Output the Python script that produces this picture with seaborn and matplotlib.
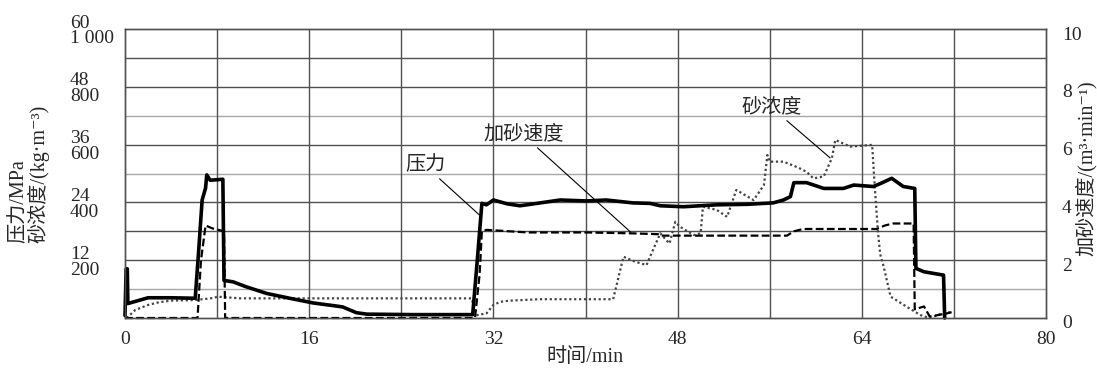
import numpy as np
import pandas as pd
import seaborn as sns
import matplotlib.pyplot as plt
from matplotlib.transforms import ScaledTranslation

# pressure (MPa)
t_press = [0.0, 0.1, 0.2, 0.25, 2.0, 4.0, 6.1, 6.4, 6.7, 7.0, 7.1, 7.4, 8.5, 8.6,
           9.4, 10.5, 12.3, 14.5, 16.4, 18.0, 18.9, 20.1, 21.0, 25.0, 30.2, 30.6,
           31.0, 31.4, 32.0, 33.2, 34.3, 35.5, 37.8, 40.1, 41.8, 44.1, 45.6, 46.5,
           48.5, 51.4, 54.0, 56.3, 57.2, 57.8, 58.1, 59.2, 60.7, 62.4, 63.3, 65.0,
           65.6, 66.6, 67.6, 68.6, 68.7, 69.4, 71.1, 71.2]
pressure = [0.5, 10.2, 10.2, 3.0, 4.2, 4.2, 4.1, 14.0, 24.5, 27.0, 29.7, 28.6, 28.8, 7.8,
            7.5, 6.5, 5.1, 4.0, 3.1, 2.6, 2.3, 1.1, 0.8, 0.7, 0.7, 12.0,
            23.8, 23.5, 24.5, 23.7, 23.3, 23.7, 24.5, 24.3, 24.5, 23.9, 23.8, 23.3,
            23.1, 23.5, 23.6, 23.9, 24.5, 25.2, 28.1, 28.1, 26.9, 26.9, 27.6, 27.3,
            27.9, 29.0, 27.3, 26.9, 10.3, 9.6, 8.9, 0.0]

# sand rate (m3/min)
t_rate = [0.0, 6.3, 6.6, 7.0, 7.6, 8.6, 8.7, 30.4, 30.8, 31.0, 31.4, 35.0, 40.0, 44.0,
          46.3, 46.5, 50.0, 55.8, 57.5, 58.1, 58.9, 62.0, 65.3, 66.0, 66.7, 68.5,
          68.6, 69.4, 69.9, 71.4, 71.8]
sand_rate = [0.0, 0.0, 2.0, 3.2, 3.1, 3.0, 0.0, 0.0, 1.5, 3.0, 3.05, 2.96, 2.96, 2.93,
             2.9, 2.85, 2.85, 2.85, 2.85, 3.0, 3.08, 3.08, 3.08, 3.2, 3.27, 3.27,
             0.3, 0.4, 0.05, 0.16, 0.2]

# sand concentration (kg/m3)
t_conc = [0.15, 0.9, 2.0, 3.0, 4.0, 6.0, 7.0, 7.8, 8.0, 10.0, 15.0, 20.0, 25.0, 30.1,
          30.4, 30.6, 31.4, 32.0, 32.6, 33.4, 36.0, 40.0, 42.4, 43.3, 44.3, 45.3,
          45.8, 46.5, 47.0, 47.3, 47.8, 48.2, 49.4, 50.0, 50.2, 51.4, 52.3, 53.1,
          54.6, 55.5, 55.8, 56.0, 57.2, 58.5, 59.2, 59.8, 60.7, 61.4, 61.7, 63.0,
          64.9, 65.1, 65.4, 65.6, 65.9, 66.5, 67.9, 69.1, 69.9, 71.1, 71.7]
sand_conc = [0, 28, 45, 55, 60, 62, 66, 70, 74, 68, 68, 68, 68, 68,
             30, 10, 16, 45, 56, 60, 65, 65, 65, 212, 195, 183,
             230, 293, 270, 258, 333, 316, 287, 293, 385, 374, 350, 443,
             408, 460, 564, 541, 541, 520, 506, 483, 490, 553, 616, 593,
             599, 470, 300, 220, 178, 74, 39, 10, 0, 17, 20]

x_ticks = [0, 16, 32, 48, 64, 80]
press_labels = ["12", "24", "36", "48", "60"]
conc_ticks = [200, 400, 600, 800, 1000]
conc_labels = ["200", "400", "600", "800", "1 000"]
rate_ticks = [0, 2, 4, 6, 8, 10]

sns.set_style("white")
plt.rcParams['font.family'] = ['Liberation Serif', 'Noto Sans CJK SC', 'DejaVu Sans']
plt.rcParams['font.size'] = 14

fig = plt.figure(figsize=(10.97, 3.72), dpi=100)
ax = fig.add_axes([125 / 1097, 1 - 318 / 372, 921 / 1097, 289 / 372])
ax_p = ax.twinx()
ax_r = ax.twinx()

grid_dark = '#505050'
grid_light = '#a8a8a8'
for v in range(100, 1000, 100):
    ax.axhline(v, color=grid_light if v in (100, 500, 700) else grid_dark, lw=1, zorder=0)
for v in range(8, 80, 8):
    ax.axvline(v, color=grid_dark, lw=1, zorder=0)

df_c = pd.DataFrame({"t": t_conc, "v": sand_conc})
df_p = pd.DataFrame({"t": t_press, "v": pressure})
df_r = pd.DataFrame({"t": t_rate, "v": sand_rate})

sns.lineplot(data=df_c, x="t", y="v", ax=ax, sort=False, estimator=None,
             color='#444444', lw=1.6, linestyle=(0, (1, 1.2)), clip_on=False)
sns.lineplot(data=df_p, x="t", y="v", ax=ax_p, sort=False, estimator=None,
             color='black', lw=2.6, clip_on=False)
sns.lineplot(data=df_r, x="t", y="v", ax=ax_r, sort=False, estimator=None,
             color='black', lw=1.6, linestyle=(0, (3.5, 1.5)), clip_on=False)

ax.set_xlim(0, 80)
ax.set_ylim(0, 1000)
ax_p.set_ylim(0, 60)
ax_r.set_ylim(0, 10)
ax_p.set_axis_off()

ax.set_xticks(x_ticks)
ax.set_xticklabels([str(x) for x in x_ticks])
ax.set_yticks(conc_ticks)
ax.set_yticklabels([p + "\n" + c for p, c in zip(press_labels, conc_labels)])
ax.tick_params(axis='y', length=0, pad=39.6)
ax.tick_params(axis='x', length=0, pad=9)
for lab in ax.get_yticklabels():
    lab.set_horizontalalignment('left')
    lab.set_verticalalignment('center')
    lab.set_linespacing(0.9)
    lab.set_transform(lab.get_transform() + ScaledTranslation(0, -0.02, fig.dpi_scale_trans))

ax_r.set_yticks(rate_ticks)
ax_r.set_yticklabels([str(r) for r in rate_ticks])
ax_r.tick_params(axis='y', length=0, pad=11.5)
for lab in ax_r.get_yticklabels():
    lab.set_transform(lab.get_transform() + ScaledTranslation(0, -0.04, fig.dpi_scale_trans))

ax.set_ylabel("")
ax.set_xlabel("")
ax_r.set_ylabel("")
ax_r.set_xlabel("")
for a in (ax, ax_r):
    for s in a.spines.values():
        s.set_color(grid_dark)
        s.set_linewidth(1)

fig.text(19 / 1097, 1 - 243 / 372, "压力/MPa", rotation=90, ha='center', va='bottom', fontsize=14.5)
fig.text(38 / 1097, 1 - 243 / 372, "砂浓度/(kg·m⁻³)", rotation=90, ha='center', va='bottom', fontsize=14.5)
fig.text(1086 / 1097, 1 - 168 / 372, "加砂速度/(m³·min⁻¹)", rotation=90, ha='center', va='center', fontsize=14.5)
fig.text(585 / 1097, 1 - 357 / 372, "时间/min", ha='center', va='center', fontsize=14.5)

arrow = dict(arrowstyle='-', color='black', lw=0.8, shrinkA=0, shrinkB=0)
ax.annotate("压力", xy=(30.8, 356), xytext=(26.1, 526), ha='center', va='center',
            fontsize=14.5, arrowprops=arrow)
ax.annotate("加砂速度", xy=(43.9, 298), xytext=(34.6, 633), ha='center', va='center',
            fontsize=14.5, arrowprops=arrow)
ax.annotate("砂浓度", xy=(61.25, 554), xytext=(56.2, 727), ha='center', va='center',
            fontsize=14.5, arrowprops=arrow)

fig.savefig("out.png", dpi=100)
